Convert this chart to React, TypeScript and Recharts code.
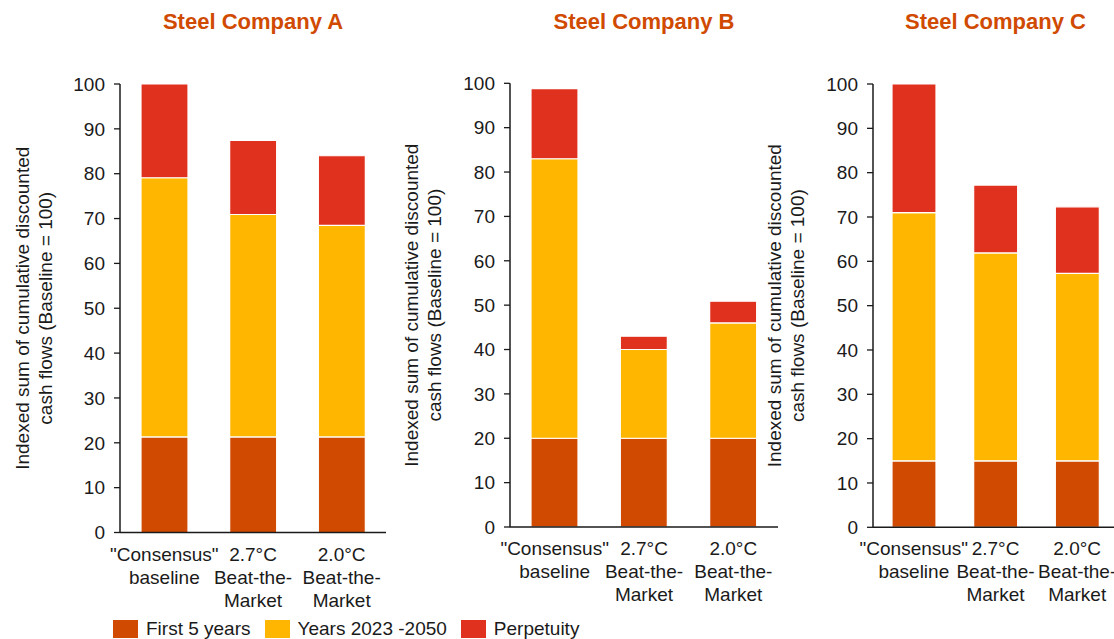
import { Bar, BarChart, Label, XAxis, YAxis } from "recharts";

const categories = [
  '"Consensus"\nbaseline',
  "2.7°C\nBeat-the-\nMarket",
  "2.0°C\nBeat-the-\nMarket",
];
const companies = ["Steel Company A", "Steel Company B", "Steel Company C"];
const seriesNames = ["First 5 years", "Years 2023 -2050", "Perpetuity"];
const seriesColors = ["#D04A02", "#FFB600", "#E0301E"];
const yTicks = [0, 10, 20, 30, 40, 50, 60, 70, 80, 90, 100];
const yLabelLines = ["Indexed sum of cumulative discounted", "cash flows (Baseline = 100)"];

// values (index = 100 for the baseline)
const firstFiveA = [21.3, 21.3, 21.3];
const yearsA = [57.8, 49.6, 47.2];
const perpetuityA = [20.9, 16.5, 15.5];

const firstFiveB = [20, 20, 20];
const yearsB = [63, 20, 26];
const perpetuityB = [15.8, 3, 4.9];

const firstFiveC = [15, 15, 15];
const yearsC = [56, 46.9, 42.3];
const perpetuityC = [29, 15.3, 15];

const FONT = '"Liberation Sans", Arial, Helvetica, sans-serif';
const TEXT = "#1a1a1a";
const CHART_H = 610;
const XAXIS_H = 70;

const panels = [
  { title: companies[0], first: firstFiveA, years: yearsA, perp: perpetuityA, left: 0, width: 390, right: 4, top: 84, bottom: 532.5, barSize: 47 },
  { title: companies[1], first: firstFiveB, years: yearsB, perp: perpetuityB, left: 390, width: 390, right: 2, top: 83.3, bottom: 527, barSize: 47 },
  { title: companies[2], first: firstFiveC, years: yearsC, perp: perpetuityC, left: 753, width: 365, right: 0, top: 84, bottom: 527.3, barSize: 44 },
];

function CategoryTick({ x, y, payload }: any) {
  const lines = String(payload.value).split("\n");
  return (
    <text x={x} y={y} textAnchor="middle" fill={TEXT} fontSize={19} fontFamily={FONT}>
      {lines.map((line, i) => (
        <tspan key={i} x={x} dy={i === 0 ? 26 : 23}>
          {line}
        </tspan>
      ))}
    </text>
  );
}

function YTitle({ viewBox }: any) {
  const axisX = viewBox.x + viewBox.width;
  const cy = viewBox.y + viewBox.height / 2;
  return (
    <g>
      {yLabelLines.map((line, i) => {
        const cx = axisX - 98 + i * 23;
        return (
          <text
            key={i}
            x={cx}
            y={cy}
            textAnchor="middle"
            dominantBaseline="central"
            transform={`rotate(-90, ${cx}, ${cy})`}
            fill={TEXT}
            fontSize={19}
            fontFamily={FONT}
          >
            {line}
          </text>
        );
      })}
    </g>
  );
}

function Panel({ p }: { p: (typeof panels)[number] }) {
  const data = categories.map((c, i) => ({
    name: c,
    first: p.first[i],
    years: p.years[i],
    perp: p.perp[i],
  }));
  const plotLeft = p.left + 120;
  const plotRight = p.left + p.width - p.right;
  return (
    <>
      <div
        style={{
          position: "absolute",
          left: plotLeft,
          width: plotRight - plotLeft,
          top: 9,
          textAlign: "center",
          color: "#D04A02",
          fontWeight: "bold",
          fontSize: 22,
          fontFamily: FONT,
          whiteSpace: "nowrap",
        }}
      >
        {p.title}
      </div>
      <div style={{ position: "absolute", left: p.left, top: 0 }}>
        <BarChart
          width={p.width}
          height={CHART_H}
          data={data}
          margin={{ top: p.top, right: p.right, left: 0, bottom: CHART_H - p.bottom - XAXIS_H }}
        >
          <XAxis
            dataKey="name"
            interval={0}
            height={XAXIS_H}
            tickLine={false}
            tickSize={0}
            tick={<CategoryTick />}
            axisLine={{ stroke: TEXT, strokeWidth: 1.5 }}
          />
          <YAxis
            width={120}
            domain={[0, 100]}
            ticks={yTicks}
            interval={0}
            tickSize={6}
            tickMargin={9}
            tickLine={{ stroke: TEXT, strokeWidth: 1.3 }}
            axisLine={{ stroke: TEXT, strokeWidth: 1.5 }}
            tick={{ fill: TEXT, fontSize: 19, fontFamily: FONT }}
          >
            <Label content={<YTitle />} />
          </YAxis>
          <Bar dataKey="first" stackId="s" fill={seriesColors[0]} stroke="#fff" strokeWidth={1.2} barSize={p.barSize} isAnimationActive={false} />
          <Bar dataKey="years" stackId="s" fill={seriesColors[1]} stroke="#fff" strokeWidth={1.2} barSize={p.barSize} isAnimationActive={false} />
          <Bar dataKey="perp" stackId="s" fill={seriesColors[2]} stroke="#fff" strokeWidth={1.2} barSize={p.barSize} isAnimationActive={false} />
        </BarChart>
      </div>
    </>
  );
}

export default function App() {
  return (
    <div
      style={{
        position: "fixed",
        left: 0,
        top: 0,
        width: 1114,
        height: 639,
        overflow: "hidden",
        background: "#fff",
        fontFamily: FONT,
      }}
    >
      {panels.map((p) => (
        <Panel key={p.title} p={p} />
      ))}

      {/* legend */}
      <div
        style={{
          position: "absolute",
          left: 113,
          top: 618,
          display: "flex",
          alignItems: "center",
          fontSize: 19,
          color: TEXT,
          whiteSpace: "nowrap",
        }}
      >
        {seriesNames.map((name, i) => (
          <div key={name} style={{ display: "flex", alignItems: "center", marginRight: 14 }}>
            <span style={{ width: 25, height: 18, background: seriesColors[i], marginRight: 8 }} />
            <span>{name}</span>
          </div>
        ))}
      </div>
    </div>
  );
}
